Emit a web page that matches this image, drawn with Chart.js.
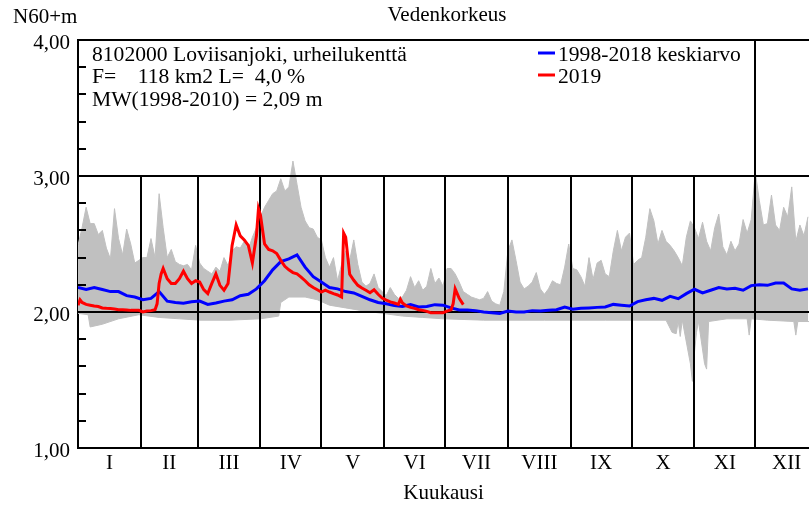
<!DOCTYPE html>
<html>
<head>
<meta charset="utf-8">
<script src="https://cdn.jsdelivr.net/npm/chart.js@4.4.0/dist/chart.umd.min.js"></script>
<style>
  html, body { margin: 0; padding: 0; background: #fff; }
</style>
</head>
<body>
<canvas id="chart" width="809" height="506"></canvas>
<script>
// --- Data (day of year, water level N60+m) ---
const monthStarts = [0, 31, 59, 90, 120, 151, 181, 212, 243, 273, 304, 334, 365]
const monthLabels = ['I', 'II', 'III', 'IV', 'V', 'VI', 'VII', 'VIII', 'IX', 'X', 'XI', 'XII']
const levelTicks = [1, 2, 3, 4]

// highest level 1998-2018, every 2nd day
const maxStep = 2
const maxLevels = [
    2.49, 2.62, 2.77, 2.65, 2.65, 2.57, 2.60, 2.47, 2.39, 2.76, 2.54, 2.42, 2.61, 2.50, 2.36,
    2.38, 2.40, 2.40, 2.54, 2.40, 2.87, 2.62, 2.40, 2.46, 2.37, 2.35, 2.34, 2.35, 2.31, 2.49,
    2.36, 2.32, 2.30, 2.28, 2.33, 2.30, 2.40, 2.34, 2.45, 2.48, 2.47, 2.52, 2.46, 2.55, 2.62,
    2.70, 2.77, 2.82, 2.87, 2.89, 2.98, 2.89, 2.92, 3.11, 2.94, 2.77, 2.67, 2.62, 2.61, 2.55, 2.53,
    2.40, 2.33, 2.40, 2.23, 2.35, 2.45, 2.38, 2.53, 2.35, 2.22, 2.19, 2.21, 2.28, 2.18, 2.15,
    2.12, 2.18, 2.13, 2.10, 2.11, 2.16, 2.26, 2.18, 2.23, 2.16, 2.19, 2.32, 2.21, 2.25, 2.19,
    2.32, 2.32, 2.28, 2.22, 2.15, 2.13, 2.11, 2.10, 2.09, 2.10, 2.15, 2.08, 2.06, 2.05, 2.15,
    2.45, 2.53, 2.38, 2.22, 2.17, 2.19, 2.22, 2.29, 2.17, 2.13, 2.17, 2.23, 2.21, 2.20, 2.33, 2.50,
    2.32, 2.31, 2.26, 2.19, 2.40, 2.24, 2.36, 2.38, 2.28, 2.26, 2.45, 2.60, 2.45, 2.55, 2.58,
    2.35, 2.38, 2.40, 2.55, 2.76, 2.67, 2.50, 2.60, 2.52, 2.49, 2.45, 2.40, 2.34, 2.55, 2.67,
    2.62, 2.54, 2.66, 2.52, 2.45, 2.62, 2.72, 2.48, 2.42, 2.52, 2.45, 2.50, 2.68, 2.58, 2.68,
    3.03, 2.82, 2.64, 2.65, 2.86, 2.64, 2.60, 2.77, 2.70, 2.92, 2.52, 2.64, 2.56, 2.70
]

// lowest level 1998-2018
const minDays = [0, 5, 6, 12, 20, 30, 40, 50, 60, 75, 90, 99, 100, 104, 112, 118, 124, 132, 140, 150,
    160, 170, 180, 200, 230, 260, 290, 293, 295, 296, 297, 298, 302, 303, 304, 305, 306, 309, 310, 311,
    320, 330, 331, 332, 340, 353, 354, 355, 361]
const minLevels = [1.99, 1.98, 1.89, 1.91, 1.95, 1.98, 1.96, 1.95, 1.94, 1.94, 1.95, 1.97, 2.07, 2.11, 2.11, 2.09, 2.05, 2.03, 2.01, 1.99,
    1.97, 1.96, 1.95, 1.94, 1.94, 1.94, 1.94, 1.85, 1.84, 1.93, 1.82, 1.94, 1.62, 1.49, 1.70, 1.85, 1.93, 1.62, 1.58, 1.93,
    1.95, 1.95, 1.83, 1.95, 1.94, 1.93, 1.83, 1.93, 1.93]

// 1998-2018 keskiarvo, every 4th day
const meanStep = 4
const meanLevels = [
    2.18, 2.165, 2.18, 2.165, 2.15, 2.15, 2.12, 2.11, 2.09, 2.10, 2.15, 2.08, 2.07, 2.065, 2.075,
    2.08, 2.056, 2.066, 2.08, 2.09, 2.12, 2.13, 2.17, 2.23, 2.31, 2.37, 2.39, 2.42, 2.33, 2.26,
    2.22, 2.18, 2.17, 2.15, 2.14, 2.115, 2.09, 2.07, 2.06, 2.047, 2.04, 2.054, 2.037, 2.04, 2.054,
    2.05, 2.03, 2.015, 2.015, 2.01, 2.00, 1.995, 1.99, 2.007, 2.00, 2.00, 2.01, 2.007, 2.012, 2.017,
    2.037, 2.02, 2.027, 2.03, 2.034, 2.037, 2.056, 2.05, 2.044, 2.076, 2.09, 2.10, 2.086, 2.115, 2.098,
    2.135, 2.167, 2.14, 2.16, 2.18, 2.17, 2.174, 2.16, 2.194, 2.20, 2.196, 2.213, 2.213, 2.17, 2.16,
    2.17
]

// 2019
const days2019 = [0, 1, 2, 4, 6, 8, 10, 12, 14, 16, 18, 20, 22, 24, 26, 28, 30, 32, 34, 36, 38, 39, 40, 41, 42,
    44, 46, 48, 50, 52, 54, 56, 58, 60, 62, 64, 66, 68, 70, 72, 74, 76, 78, 80, 82, 84, 86, 88, 89, 90,
    92, 94, 96, 98, 100, 102, 104, 106, 108, 110, 112, 114, 116, 118, 120, 122, 124, 126, 128, 130, 131, 132,
    134, 136, 138, 140, 142, 144, 146, 148, 150, 152, 154, 156, 158, 159, 160, 162, 164, 166, 168, 170, 172,
    174, 176, 178, 180, 182, 184, 185, 186, 188, 190]
const levels2019 = [2.05, 2.09, 2.07, 2.056, 2.05, 2.044, 2.04, 2.03, 2.027, 2.025, 2.022, 2.017, 2.017, 2.015, 2.012, 2.012, 2.012, 2.0, 2.007, 2.01, 2.017, 2.06, 2.21, 2.28, 2.32,
    2.245, 2.21, 2.21, 2.245, 2.30, 2.245, 2.21, 2.23, 2.22, 2.164, 2.135, 2.21, 2.28, 2.196, 2.16, 2.21, 2.49, 2.64, 2.56, 2.53, 2.49, 2.36, 2.56, 2.76, 2.71,
    2.50, 2.46, 2.45, 2.43, 2.38, 2.336, 2.31, 2.29, 2.28, 2.257, 2.23, 2.20, 2.18, 2.164, 2.147, 2.16, 2.147, 2.135, 2.125, 2.11, 2.58, 2.55,
    2.277, 2.233, 2.196, 2.176, 2.16, 2.142, 2.164, 2.13, 2.103, 2.088, 2.074, 2.066, 2.056, 2.093, 2.066, 2.044, 2.034, 2.027, 2.017, 2.012, 2.005,
    1.995, 1.995, 1.995, 1.995, 2.007, 2.017, 2.06, 2.17, 2.10, 2.054]

const serif = "'Liberation Serif', 'Times New Roman', serif"
const monthMids = monthLabels.map((m, i) => (monthStarts[i] + monthStarts[i + 1]) / 2)

// --- Frame lines, minor ticks and texts ---
const framePlugin = {
    id: 'frame',
    afterDatasetDraw(chart, args) {
        if (args.index !== 2) return
        const { ctx, chartArea: area } = chart
        const x = chart.scales.x
        const y = chart.scales.y
        ctx.save()
        ctx.strokeStyle = '#000'
        ctx.lineWidth = 2
        ctx.beginPath()
        levelTicks.slice(1).forEach(v => {
            const py = Math.round(y.getPixelForValue(v))
            ctx.moveTo(area.left, py)
            ctx.lineTo(area.right, py)
        })
        monthStarts.slice(1, 12).forEach(d => {
            const px = Math.round(x.getPixelForValue(d))
            const top = d === 334 ? area.top : y.getPixelForValue(3)
            ctx.moveTo(px, top)
            ctx.lineTo(px, area.bottom)
        })
        for (let i = 6; i < 20; i++) {
            if (i % 5 === 0) continue
            const py = Math.round(y.getPixelForValue(i / 5))
            ctx.moveTo(area.left, py)
            ctx.lineTo(area.left + 8, py)
        }
        ctx.stroke()
        ctx.restore()
    },
    afterDraw(chart) {
        const ctx = chart.ctx
        ctx.save()
        ctx.fillStyle = '#000'
        ctx.textBaseline = 'alphabetic'
        ctx.font = '21px ' + serif
        ctx.textAlign = 'center'
        ctx.fillText('Vedenkorkeus', 447, 21)
        ctx.textAlign = 'left'
        ctx.fillText('N60+m', 13, 23)
        ctx.font = '21.6px ' + serif
        ctx.fillText('8102000 Loviisanjoki, urheilukenttä', 92, 61)
        ctx.fillText('F=    118 km2 L=  4,0 %', 92, 83)
        ctx.fillText('MW(1998-2010) = 2,09 m', 92, 106)
        ctx.fillText('1998-2018 keskiarvo', 558, 61)
        ctx.fillText('2019', 558, 83)
        ctx.lineWidth = 3
        ctx.strokeStyle = '#0000ff'
        ctx.beginPath(); ctx.moveTo(538, 53); ctx.lineTo(555, 53); ctx.stroke()
        ctx.strokeStyle = '#ff0000'
        ctx.beginPath(); ctx.moveTo(538, 75); ctx.lineTo(555, 75); ctx.stroke()
        ctx.restore()
    }
}

const toPoints = (xs, ys) => ys.map((v, i) => ({ x: xs[i], y: v }))
const stepDays = (n, step) => Array.from({ length: n }, (_, i) => i * step)

new Chart(document.getElementById('chart'), {
    type: 'line',
    data: {
        datasets: [
            { label: '2019', data: toPoints(days2019, levels2019), borderColor: '#ff0000', borderWidth: 3 },
            { label: '1998-2018 keskiarvo', data: toPoints(stepDays(meanLevels.length, meanStep), meanLevels), borderColor: '#0000ff', borderWidth: 3 },
            { label: 'max', data: toPoints(stepDays(maxLevels.length, maxStep), maxLevels), borderColor: '#c0c0c0', borderWidth: 1, backgroundColor: '#c0c0c0', fill: '+1' },
            { label: 'min', data: toPoints(minDays, minLevels), borderColor: '#c0c0c0', borderWidth: 1, fill: false }
        ]
    },
    options: {
        responsive: false,
        animation: false,
        layout: { padding: { top: 40, right: 0, bottom: 0, left: 0 } },
        elements: { point: { radius: 0 }, line: { tension: 0 } },
        plugins: { legend: { display: false }, tooltip: { enabled: false } },
        scales: {
            x: {
                type: 'linear',
                min: 0,
                max: 360.5,
                grid: { display: false, drawTicks: false },
                border: { display: true, color: '#000', width: 2 },
                afterBuildTicks: s => { s.ticks = monthMids.map(v => ({ value: v })) },
                afterFit: s => { s.height = 58 },
                ticks: {
                    autoSkip: false,
                    maxRotation: 0,
                    padding: 3,
                    color: '#000',
                    font: { family: serif, size: 21 },
                    callback: (v, i) => monthLabels[i]
                },
                title: { display: true, text: 'Kuukausi', color: '#000', font: { family: serif, size: 21 }, padding: 0 }
            },
            y: {
                min: 1,
                max: 4,
                grid: { display: false, drawTicks: false },
                border: { display: true, color: '#000', width: 2 },
                afterFit: s => { s.width = 78 },
                ticks: {
                    stepSize: 1,
                    padding: 8,
                    labelOffset: 3,
                    color: '#000',
                    font: { family: serif, size: 21 },
                    callback: v => v.toFixed(2).replace('.', ',')
                }
            }
        }
    },
    plugins: [framePlugin]
})
</script>
</body>
</html>
